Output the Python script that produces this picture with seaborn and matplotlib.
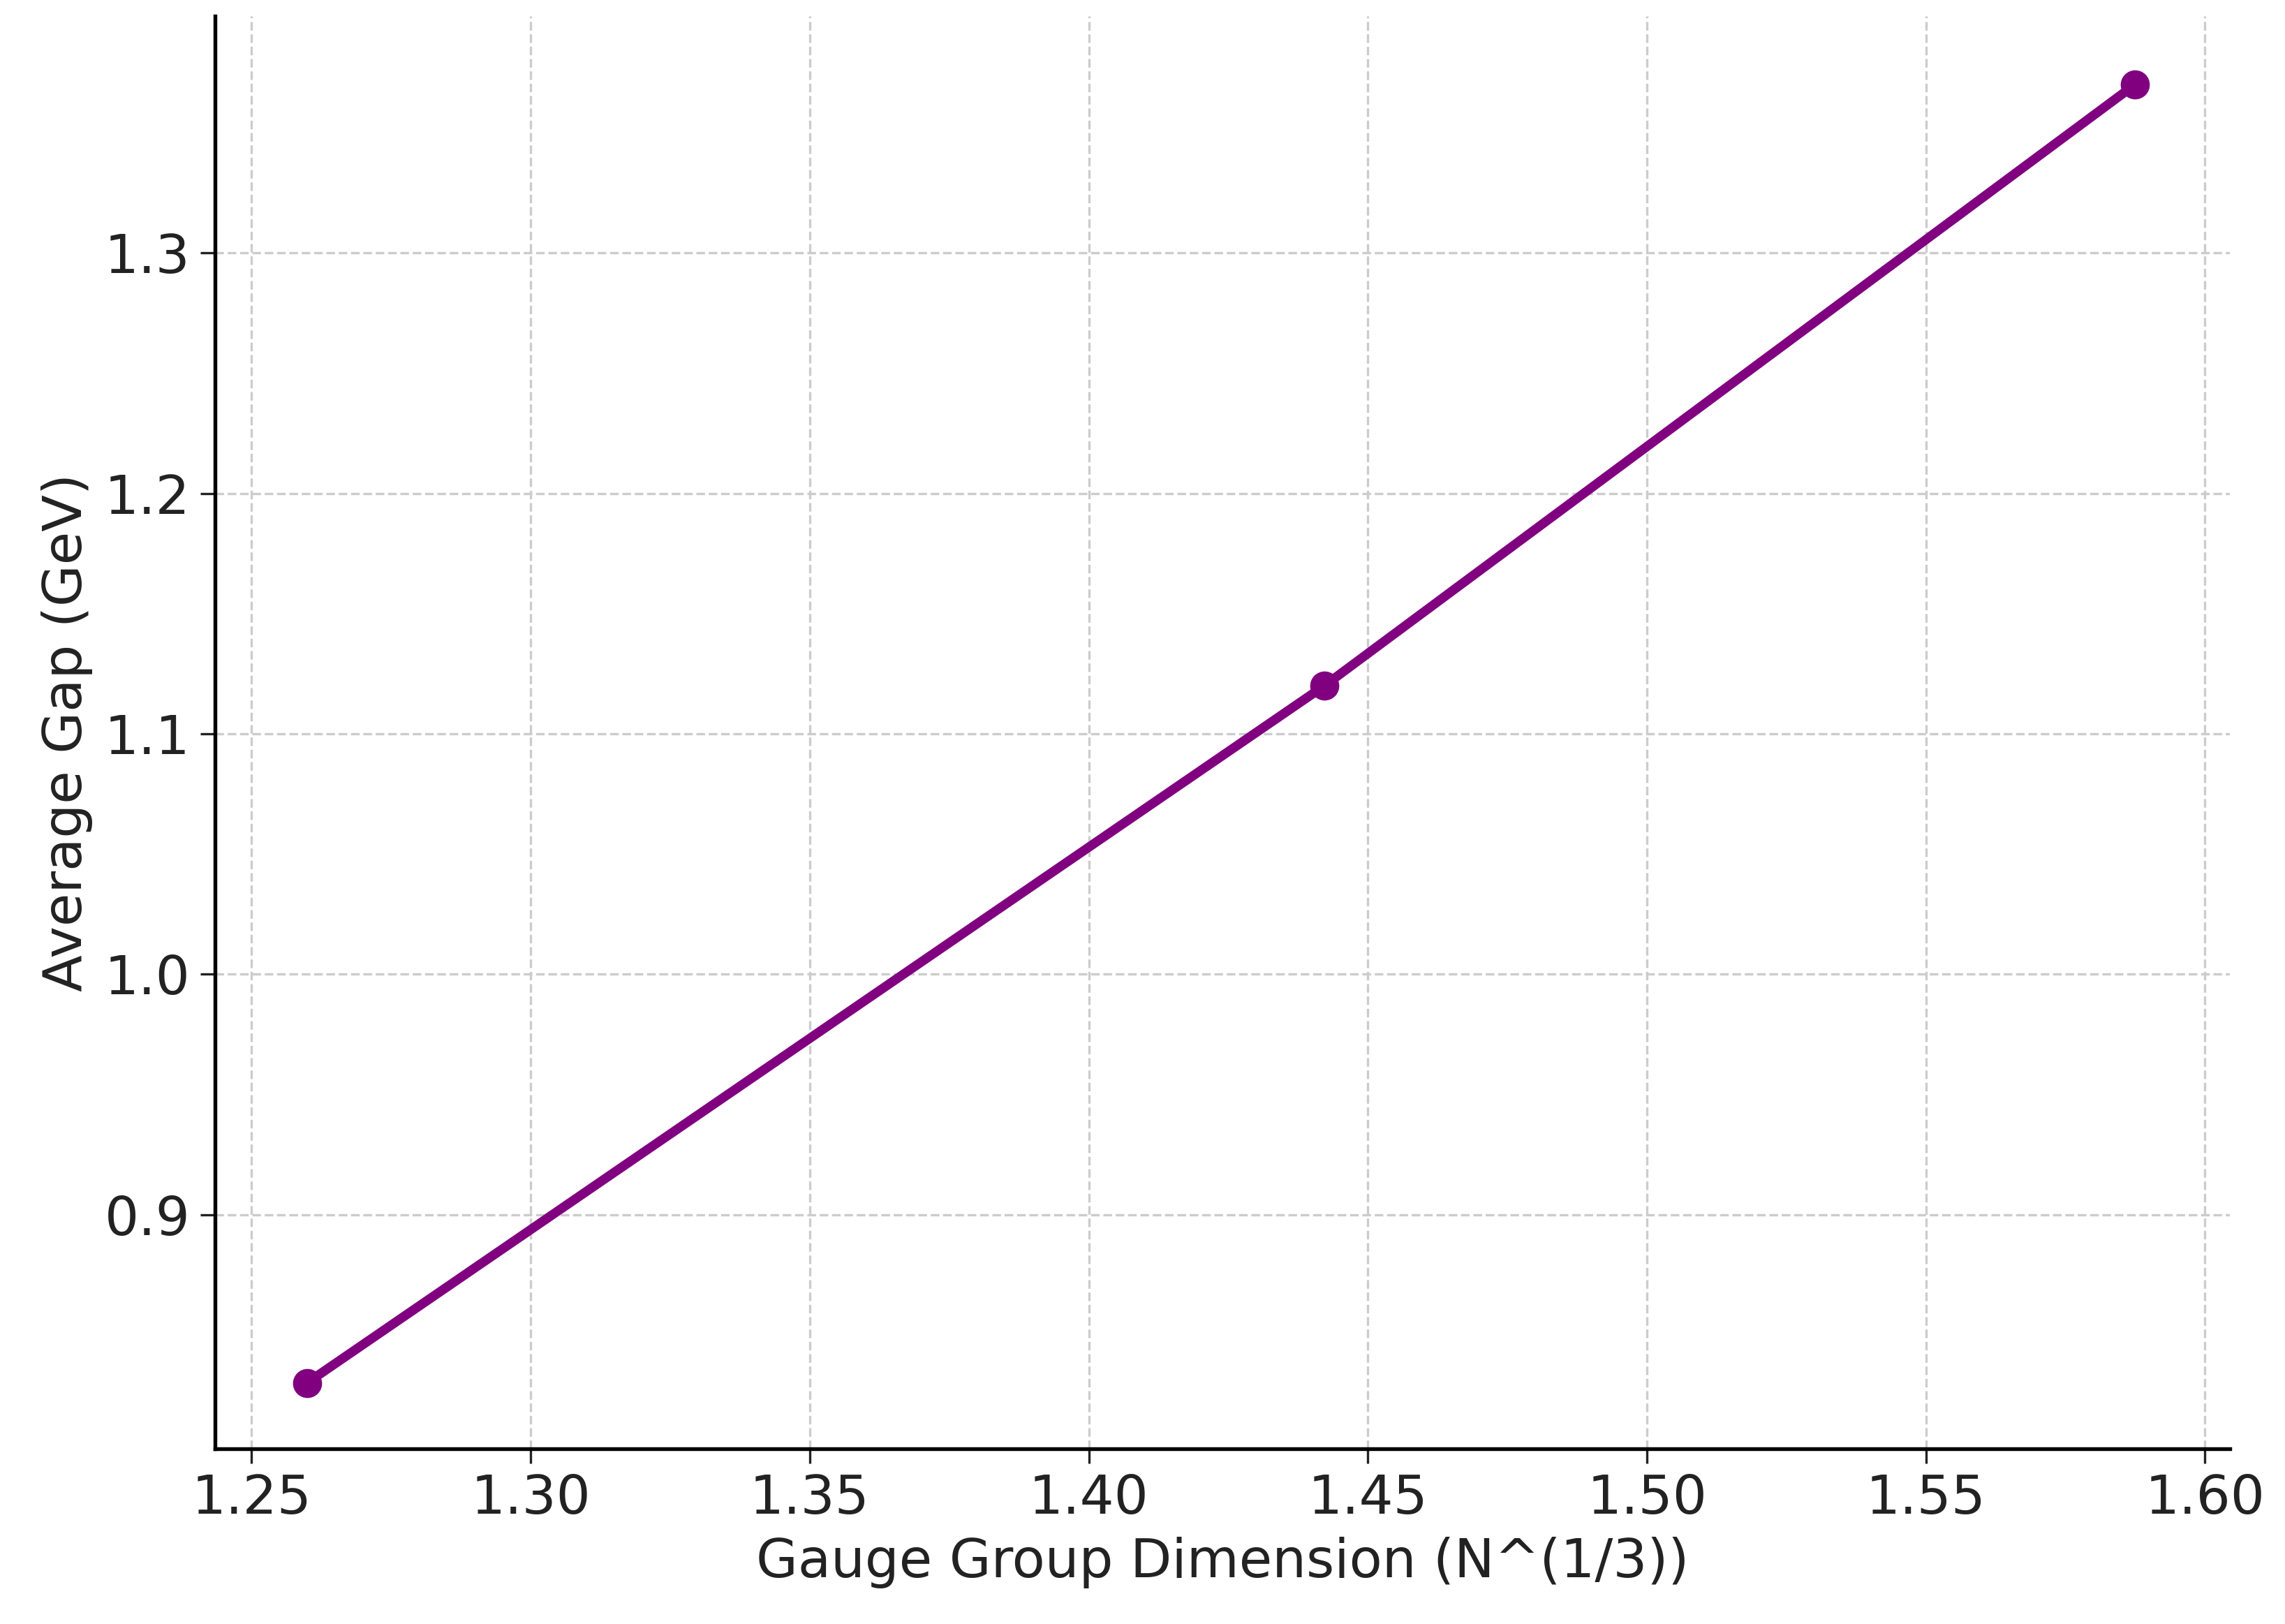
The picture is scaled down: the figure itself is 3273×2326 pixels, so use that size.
import matplotlib
matplotlib.use("Agg")
import matplotlib.pyplot as plt
import seaborn as sns
import pandas as pd

x_vals = [1.2599, 1.4422, 1.5874]
y_vals = [0.83, 1.12, 1.37]
df = pd.DataFrame({"x": x_vals, "y": y_vals})

sns.set_style("ticks")
plt.rcParams['font.family'] = ['DejaVu Sans']
fig = plt.figure(figsize=(3273/300, 2326/300), dpi=300)
ax = fig.add_axes([0.094, 0.108, 0.882, 0.882])
sns.lineplot(data=df, x="x", y="y", ax=ax, color="purple", marker="o",
             markersize=10, linewidth=3.2, markeredgewidth=0)
ax.set_xlim(1.2434, 1.6045)
ax.set_ylim(0.8027, 1.3985)
ax.set_xticks([1.25, 1.30, 1.35, 1.40, 1.45, 1.50, 1.55, 1.60])
ax.set_yticks([0.9, 1.0, 1.1, 1.2, 1.3])
ax.set_xticklabels(["1.25", "1.30", "1.35", "1.40", "1.45", "1.50", "1.55", "1.60"])
ax.set_yticklabels(["0.9", "1.0", "1.1", "1.2", "1.3"])
ax.grid(True, linestyle="--", color="#cccccc", linewidth=0.8)
ax.tick_params(labelsize=18.5, length=5, colors="#222222")
ax.set_xlabel("Gauge Group Dimension (N^(1/3))", fontsize=18.5, color="#222222")
ax.set_ylabel("Average Gap (GeV)", fontsize=18.5, color="#222222")
sns.despine(ax=ax)
for s in ["left", "bottom"]:
    ax.spines[s].set_color("black")
    ax.spines[s].set_linewidth(1.3)
fig.savefig("out.png", dpi=300)
